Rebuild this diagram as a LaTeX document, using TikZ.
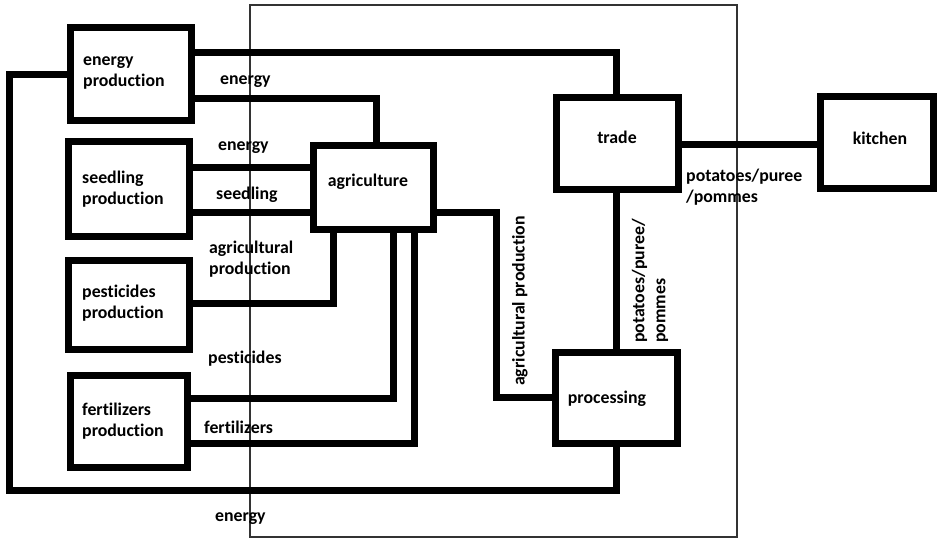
\documentclass[tikz,border=0pt]{standalone}
\usepackage{fontspec}
\setmainfont[Ligatures={NoCommon}]{Carlito}
\usetikzlibrary{calc}
\begin{document}
\begin{tikzpicture}[x=1pt,y=-1pt,
  box/.style={draw=black,line width=7pt,outer sep=0pt,inner sep=0pt,line join=miter},
  flow/.style={line width=7pt,line join=miter,line cap=rect},
  txt/.style={inner sep=0pt,font=\fontsize{17.8}{21}\selectfont\bfseries,align=left},
  frame/.style={draw=black!80,line width=1.3pt}]
\useasboundingbox (0,0) rectangle (940,539);
\draw[frame] (250,5) rectangle (737,537);
% boxes
\node[box,minimum width=121pt,minimum height=93pt] (ep) at (131,74) {};
\node[box,minimum width=121pt,minimum height=95pt] (sp) at (129,189) {};
\node[box,minimum width=121pt,minimum height=89pt] (pp) at (129,305) {};
\node[box,minimum width=117pt,minimum height=92pt] (fp) at (129,421.5) {};
\node[box,minimum width=120pt,minimum height=84pt] (ag) at (373.5,187.5) {};
\node[box,minimum width=122pt,minimum height=92pt] (tr) at (617.5,143.5) {};
\node[box,minimum width=113pt,minimum height=92pt] (ki) at (877,142.5) {};
\node[box,minimum width=122pt,minimum height=91pt] (pr) at (616.5,398) {};
% box texts
\node[txt,anchor=west] (tep) at (83,73) {energy\\production};
\node[txt,anchor=west] (tsp) at (82,189.5) {seedling\\production};
\node[txt,anchor=west] (tpp) at (82,303.5) {pesticides\\production};
\node[txt,anchor=west] (tfp) at (82,421.5) {fertilizers\\production};
\node[txt] (tag) at (368,181.5) {agriculture};
\node[txt] (ttr) at (617,137) {trade};
\node[txt] (tki) at (880,138.5) {kitchen};
\node[txt] (tpr) at (607,398.5) {processing};
% connectors
\coordinate (lt) at (9,74);
\coordinate (lb) at (9,490);
\draw[flow] (ep.east |- 0,52) -| (tr.north -| 616,0);
\draw[flow] (ep.east |- 0,98) -| (ag.north -| 376,0);
\draw[flow] (ep.west |- lt) -- (lt) -- (lb) -| (pr.south -| 616,0);
\draw[flow] (sp.east |- 0,167) -- (ag.west |- 0,167);
\draw[flow] (sp.east |- 0,212) -- (ag.west |- 0,212);
\draw[flow] (pp.east |- 0,303) -| (ag.south -| 333,0);
\draw[flow] (fp.east |- 0,398) -| (ag.south -| 393,0);
\draw[flow] (fp.east |- 0,443) -| (ag.south -| 414,0);
\draw[flow] (ag.east |- 0,212) -| (496,397) -- (pr.west |- 0,397);
\draw[flow] (tr.south -| 616,0) -- (pr.north -| 616,0);
\draw[flow] (tr.east |- 0,144) -- (ki.west |- 0,144);
% connector labels
\node[txt,anchor=west] (l1) at (220,82) {energy};
\node[txt,anchor=west] (l2) at (218,148) {energy};
\node[txt,anchor=west] (l3) at (216,195) {seedling};
\node[txt,anchor=west] (l4) at (209,259) {agricultural\\production};
\node[txt,anchor=west] (l5) at (208,358.5) {pesticides};
\node[txt,anchor=west] (l6) at (204,427) {fertilizers};
\node[txt,anchor=west] (l7) at (215,519) {energy};
\node[txt,anchor=west] (l8) at (686,187.5) {potatoes/puree\\/pommes};
\node[txt,anchor=west,rotate=90] (l9) at (520,386) {agricultural production};
\node[txt,anchor=west,rotate=90] (l10) at (650,343) {potatoes/puree/\\pommes};
\end{tikzpicture}
\end{document}
